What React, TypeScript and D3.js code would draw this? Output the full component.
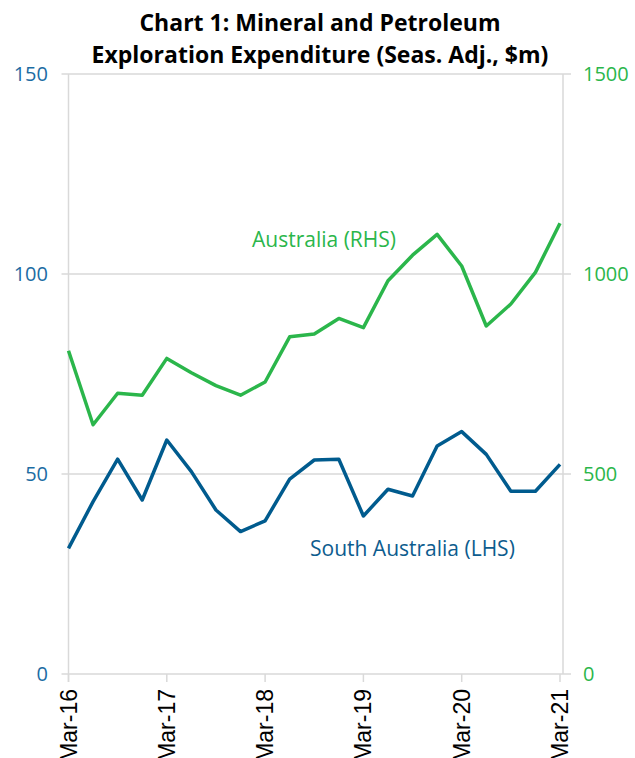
import React from "react";
import * as d3 from "d3";

// Quarterly values, Mar-16 .. Mar-21
const quarters = [
  "Mar-16", "Jun-16", "Sep-16", "Dec-16",
  "Mar-17", "Jun-17", "Sep-17", "Dec-17",
  "Mar-18", "Jun-18", "Sep-18", "Dec-18",
  "Mar-19", "Jun-19", "Sep-19", "Dec-19",
  "Mar-20", "Jun-20", "Sep-20", "Dec-20",
  "Mar-21",
];
const southAustralia = [
  31.4, 43.1, 53.7, 43.5, 58.5, 50.6, 41.0, 35.6, 38.3, 48.7, 53.5,
  53.7, 39.5, 46.2, 44.5, 57.0, 60.6, 54.9, 45.7, 45.7, 52.4,
];
const australia = [
  808, 623, 702, 697, 789, 753, 721, 697, 730, 843, 850,
  889, 866, 983, 1047, 1099, 1020, 870, 925, 1004, 1127,
];
const leftTicks = [0, 50, 100, 150];
const rightTicks = [0, 500, 1000, 1500];
const xTickLabels = ["Mar-16", "Mar-17", "Mar-18", "Mar-19", "Mar-20", "Mar-21"];

const W = 635;
const H = 758;
const left = 68.5;
const right = 560;
const top = 74;
const bottom = 674;

const BLUE = "#005b8e";
const GREEN = "#2bb64b";
const GRID = "#d9d9d9";

export default function App() {
  const x = d3.scaleLinear().domain([0, quarters.length - 1]).range([left, right]);
  const yL = d3.scaleLinear().domain([0, 150]).range([bottom, top]);
  const yR = d3.scaleLinear().domain([0, 1500]).range([bottom, top]);

  const saLine = d3
    .line<number>()
    .x((_, i) => x(i))
    .y((d) => yL(d))(southAustralia);
  const auLine = d3
    .line<number>()
    .x((_, i) => x(i))
    .y((d) => yR(d))(australia);

  const yearIdx = xTickLabels.map((lab) => quarters.indexOf(lab));

  return (
    <svg
      width={W}
      height={H}
      style={{ position: "absolute", left: 0, top: 0, background: "#fff" }}
    >
      {/* title */}
      <g fontFamily="'Open Sans', sans-serif" fontWeight="bold" fontSize={23} fill="#000" textAnchor="middle">
        <text x={320} y={31}>Chart 1: Mineral and Petroleum</text>
        <text x={320} y={63}>Exploration Expenditure (Seas. Adj., $m)</text>
      </g>

      {/* gridlines */}
      {leftTicks.map((t) => (
        <line key={t} x1={left - 7} x2={right + 11} y1={yL(t)} y2={yL(t)} stroke={GRID} strokeWidth={1.5} />
      ))}
      <line x1={left} x2={left} y1={top} y2={bottom + 8} stroke={GRID} strokeWidth={1.5} />
      <line x1={right + 3} x2={right + 3} y1={top} y2={bottom} stroke={GRID} strokeWidth={1.5} />
      {yearIdx.map((i) => (
        <line key={i} x1={x(i)} x2={x(i)} y1={bottom} y2={bottom + 8} stroke={GRID} strokeWidth={1.5} />
      ))}

      {/* left axis labels */}
      <g fontFamily="'Open Sans', sans-serif" fontSize={20} fill="#1c6ca3" textAnchor="end">
        {leftTicks.map((t) => (
          <text key={t} x={48} y={yL(t)} dy="0.35em">{t}</text>
        ))}
      </g>
      {/* right axis labels */}
      <g fontFamily="'Open Sans', sans-serif" fontSize={20} fill={GREEN} textAnchor="start">
        {rightTicks.map((t) => (
          <text key={t} x={583} y={yR(t)} dy="0.35em">{t}</text>
        ))}
      </g>

      {/* x axis labels */}
      <g fontFamily="'Liberation Sans', Arial, sans-serif" fontSize={23} fill="#000" textAnchor="end">
        {xTickLabels.map((lab, k) => (
          <text key={lab} transform={`translate(${x(yearIdx[k])},${bottom + 15}) rotate(-90)`} dy="0.35em">
            {lab}
          </text>
        ))}
      </g>

      {/* lines */}
      <path d={auLine ?? ""} fill="none" stroke={GREEN} strokeWidth={3.5} strokeLinejoin="round" />
      <path d={saLine ?? ""} fill="none" stroke={BLUE} strokeWidth={3.5} strokeLinejoin="round" />

      {/* series labels */}
      <text x={252} y={247} fontFamily="'Open Sans', sans-serif" fontSize={21} fill={GREEN}>
        Australia (RHS)
      </text>
      <text x={310} y={556} fontFamily="'Open Sans', sans-serif" fontSize={21} fill="#0d5c8e">
        South Australia (LHS)
      </text>
    </svg>
  );
}
